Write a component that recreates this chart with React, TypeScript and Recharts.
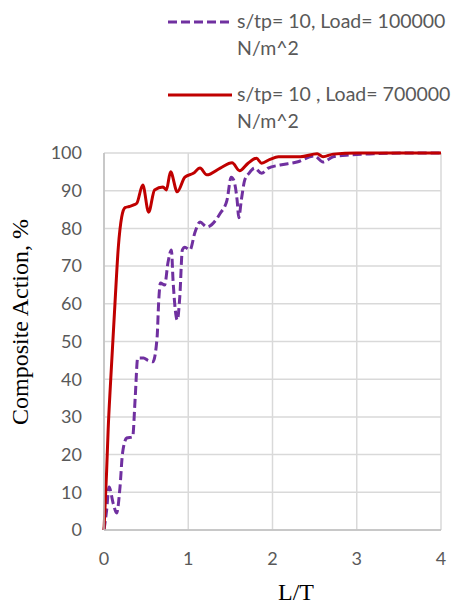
import { LineChart, Line, XAxis, YAxis, CartesianGrid, Legend, Label } from "recharts";

// s/tp = 10, Load = 700000 N/m^2
const redX = [0, 0.03, 0.05, 0.075, 0.1, 0.13, 0.17, 0.21, 0.25, 0.3, 0.36, 0.39, 0.46, 0.53, 0.6, 0.7, 0.74, 0.79, 0.87, 0.96, 1.06, 1.14, 1.22, 1.38, 1.52, 1.61, 1.71, 1.81, 1.87, 1.97, 2.07, 2.33, 2.53, 2.6, 2.72, 3.0, 3.5, 4.0];
const redY = [0, 15, 27, 38, 48, 60, 75, 83, 85.5, 85.8, 86.3, 86.7, 91.5, 84.3, 90.2, 91, 90.2, 95, 89.7, 93.6, 94.6, 96, 94.2, 96, 97.4, 95.3, 97.3, 98.6, 97.3, 98.3, 99, 99, 99.8, 99, 99.7, 100, 100, 100];

// s/tp = 10, Load = 100000 N/m^2
const purpleX = [0, 0.03, 0.06, 0.11, 0.15, 0.19, 0.22, 0.27, 0.34, 0.37, 0.4, 0.47, 0.52, 0.58, 0.63, 0.65, 0.67, 0.72, 0.76, 0.8, 0.82, 0.87, 0.9, 0.93, 0.96, 1.02, 1.08, 1.14, 1.22, 1.38, 1.46, 1.51, 1.54, 1.58, 1.6, 1.63, 1.67, 1.72, 1.79, 1.87, 1.95, 2.09, 2.29, 2.5, 2.6, 2.72, 2.92, 3.2, 3.6, 4.0];
const purpleY = [0, 5, 11.4, 7, 4.5, 11.4, 20.4, 24.4, 24.7, 35, 45.6, 45.6, 45, 44.6, 51, 61, 65.5, 65, 71, 74.3, 66, 55.7, 62, 74.3, 75, 74.3, 79, 81.7, 80.4, 84, 87.5, 93.6, 92.8, 87.5, 82.8, 87.5, 92.8, 94.6, 96, 94.6, 96, 96.8, 97.6, 99.2, 97.6, 99, 99.5, 99.8, 100, 100];

const xTicks = [0, 1, 2, 3, 4];
const yTicks = [0, 10, 20, 30, 40, 50, 60, 70, 80, 90, 100];

const legendLines = [
  ["s/tp= 10, Load= 100000", "N/m^2"],
  ["s/tp= 10 , Load= 700000", "N/m^2"],
];

const red = redX.map((x, i) => ({ x, y: redY[i] }));
const purple = purpleX.map((x, i) => ({ x, y: purpleY[i] }));

const tickStyle = { fontSize: 18, fill: "#595959", fontFamily: "Lato" };

function LegendBox() {
  const rows = [
    { color: "#7030A0", dash: "9 4", lineY: 22, base: 28 },
    { color: "#C00000", dash: undefined, lineY: 95, base: 101 },
  ];
  return (
    <svg width={454} height={140} style={{ display: "block" }}>
      {rows.map((r, i) => (
        <g key={i}>
          <line x1={168} x2={232} y1={r.lineY} y2={r.lineY} stroke={r.color} strokeWidth={3} strokeDasharray={r.dash} />
          <text x={237} y={r.base} fontSize={19.5} fill="#595959" fontFamily="Lato">
            {legendLines[i][0]}
          </text>
          <text x={237} y={r.base + 27} fontSize={19.5} fill="#595959" fontFamily="Lato">
            {legendLines[i][1]}
          </text>
        </g>
      ))}
    </svg>
  );
}

export default function App() {
  return (
    <>
      <style>{`body{margin:0}`}</style>
      <LineChart width={454} height={606} margin={{ top: 153, right: 13, bottom: 0, left: 0 }}>
        <CartesianGrid stroke="#d9d9d9" strokeWidth={1.5} />
        <XAxis
          type="number"
          dataKey="x"
          domain={[0, 4]}
          ticks={xTicks}
          height={76}
          tickSize={0}
          tickMargin={22}
          tick={tickStyle}
          stroke="#bfbfbf"
          strokeWidth={1.5}
          allowDuplicatedCategory={false}
        >
          <Label
            content={() => (
              <text x={296} y={600} textAnchor="middle" fontSize={24} fontFamily="Liberation Serif" fill="#000">
                L/T
              </text>
            )}
          />
        </XAxis>
        <YAxis
          type="number"
          domain={[0, 100]}
          ticks={yTicks}
          width={104}
          tickSize={0}
          tickMargin={22}
          tick={tickStyle}
          stroke="#bfbfbf"
          strokeWidth={1.5}
          interval={0}
        >
          <Label
            content={() => (
              <text
                x={28}
                y={322}
                transform="rotate(-90 28 322)"
                textAnchor="middle"
                fontSize={24}
                fontFamily="Liberation Serif"
                fill="#000"
              >
                Composite Action, %
              </text>
            )}
          />
        </YAxis>
        <Legend
          layout="horizontal"
          verticalAlign="middle"
          align="center"
          wrapperStyle={{ top: 0, left: 0, width: 454, height: 140 }}
          content={() => <LegendBox />}
        />
        <Line
          data={purple}
          dataKey="y"
          type="monotone"
          stroke="#7030A0"
          strokeWidth={3}
          strokeDasharray="9 4"
          dot={false}
          isAnimationActive={false}
        />
        <Line
          data={red}
          dataKey="y"
          type="monotone"
          stroke="#C00000"
          strokeWidth={3}
          dot={false}
          isAnimationActive={false}
        />
      </LineChart>
    </>
  );
}
